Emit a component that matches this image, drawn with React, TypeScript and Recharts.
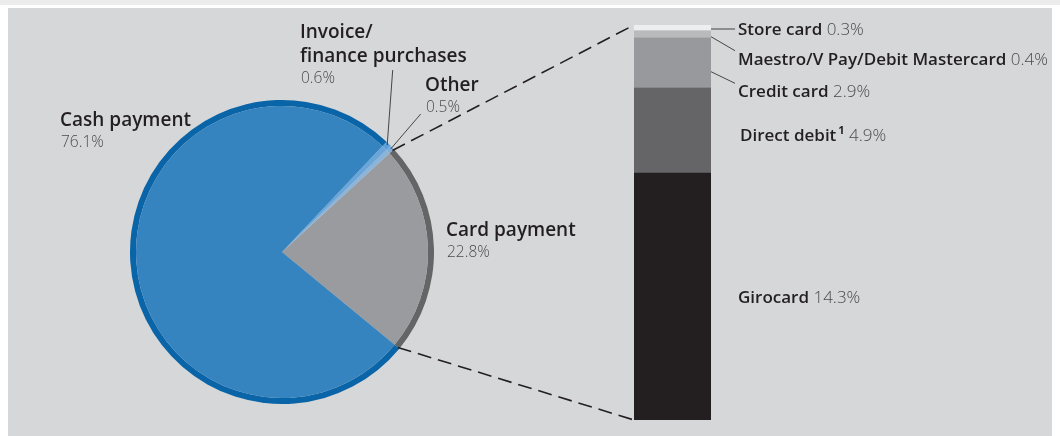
import React from "react";
import { PieChart, Pie, Cell, BarChart, Bar, XAxis, YAxis } from "recharts";

// payment shares (% of turnover)
const paymentMethods = ["Card payment", "Other", "Invoice/finance purchases", "Cash payment"];
const paymentShares = [22.8, 0.5, 0.6, 76.1];
const paymentFill = ["#9a9b9e", "#8cb4d8", "#6ba6da", "#3583bf"];
const paymentRing = ["#646567", "#7eaed8", "#5d9fd8", "#0a64a8"];

// breakdown of card payments
const cardTypes = ["Girocard", "Direct debit", "Credit card", "Maestro/V Pay/Debit Mastercard", "Store card"];
const cardShares = [14.3, 4.9, 2.9, 0.4, 0.3];
const cardColors = ["#231f20", "#656567", "#98999c", "#b9babc", "#eeeeee"];

const W = 1052;
const H = 428;
const CX = 274;
const CY = 244;
const R = 152;
const RING = 6;
const START = -39.5;

const BAR_X = 626;
const BAR_Y = 17;
const BAR_W = 77;
const BAR_H = 395;

const FONT = "'Open Sans', 'Noto Sans', sans-serif";
const INK = "#231f20";
const PCT = "#4a4b4d";

const pieData = paymentMethods.map((name, i) => ({ name, value: paymentShares[i] }));
const barRow: Record<string, number | string> = { name: "Card payment" };
cardTypes.forEach((t, i) => (barRow[t] = cardShares[i]));
const cardTotal = cardShares.reduce((a, b) => a + b, 0);

const polar = (deg: number, r: number) => {
    const a = (deg * Math.PI) / 180;
    return [CX + r * Math.cos(a), CY - r * Math.sin(a)];
};

// slice start/end angles from the shares
const angles: number[] = [];
{
    let a = START;
    paymentShares.forEach((v) => {
        angles.push(a);
        a += (v / 100) * 360;
    });
    angles.push(a);
}
const mid = (i: number) => (angles[i] + angles[i + 1]) / 2;

const Label = ({ x, y, lines, pct }: any) => (
    <g fontFamily={FONT}>
        {lines.map((l: string, i: number) => (
            <text key={i} x={x} y={y + i * 24} fontSize={19} fill={INK} fontWeight={600}>
                {l}
            </text>
        ))}
        <text x={x + 1} y={y + (lines.length - 1) * 24 + 21} fontSize={15.5} fill={PCT} fontWeight={300}>
            {pct}
        </text>
    </g>
);

const BarLabel = ({ x, y, name, pct, sup }: any) => (
    <text x={x} y={y} fontFamily={FONT} fontSize={17}>
        <tspan fill={INK} fontWeight={600}>{name}</tspan>
        {sup && (
            <tspan fill={INK} fontWeight={700} fontSize={11} dx={2} dy={-7}>
                {sup}
            </tspan>
        )}
        <tspan fill={PCT} fontWeight={300} dy={sup ? 7 : 0}>
            {" " + pct}
        </tspan>
    </text>
);

export default function App() {
    const cardStart = polar(angles[0], R - 2);
    const cardEnd = polar(angles[1], R - 2);
    const otherPt = polar(mid(1), R - 2);
    const invoicePt = polar(mid(2), R - 2);
    const fmt = (v: number) => `${v.toFixed(1)}%`;

    return (
        <div style={{ position: "relative", width: W, height: H, background: "#d6d7d8" }}>
            <div style={{ position: "fixed", left: 0, top: 0, width: "100%", height: 5, background: "#ececec" }} />
            <div style={{ position: "absolute", left: 0, top: 0 }}>
                <PieChart width={W} height={H} margin={{ top: 0, right: 0, bottom: 0, left: 0 }}>
                    <Pie
                        data={pieData}
                        dataKey="value"
                        cx={CX}
                        cy={CY}
                        innerRadius={R - RING}
                        outerRadius={R}
                        startAngle={START}
                        endAngle={START + 360}
                        stroke="none"
                        isAnimationActive={false}
                    >
                        {pieData.map((d, i) => (
                            <Cell key={d.name} fill={paymentRing[i]} />
                        ))}
                    </Pie>
                    <Pie
                        data={pieData}
                        dataKey="value"
                        cx={CX}
                        cy={CY}
                        innerRadius={0}
                        outerRadius={R - RING}
                        startAngle={START}
                        endAngle={START + 360}
                        stroke="none"
                        isAnimationActive={false}
                    >
                        {pieData.map((d, i) => (
                            <Cell key={d.name} fill={paymentFill[i]} />
                        ))}
                    </Pie>
                </PieChart>
            </div>
            <div style={{ position: "absolute", left: BAR_X, top: BAR_Y }}>
                <BarChart
                    width={BAR_W}
                    height={BAR_H}
                    data={[barRow]}
                    margin={{ top: 0, right: 0, bottom: 0, left: 0 }}
                    barCategoryGap={0}
                >
                    <XAxis dataKey="name" hide />
                    <YAxis hide domain={[0, cardTotal]} />
                    {cardTypes.map((t, i) => (
                        <Bar key={t} dataKey={t} stackId="card" fill={cardColors[i]} isAnimationActive={false} />
                    ))}
                </BarChart>
            </div>
            <svg width={W} height={H} style={{ position: "absolute", left: 0, top: 0, pointerEvents: "none" }}>
                {/* connectors from card slice to bar */}
                <line x1={cardEnd[0]} y1={cardEnd[1]} x2={BAR_X} y2={BAR_Y} stroke={INK} strokeWidth={1.6} strokeDasharray="14 7" />
                <line x1={cardStart[0]} y1={cardStart[1]} x2={BAR_X} y2={BAR_Y + BAR_H} stroke={INK} strokeWidth={1.6} strokeDasharray="14 7" />

                {/* pie leaders */}
                <line x1={384.7} y1={62} x2={invoicePt[0]} y2={invoicePt[1]} stroke={INK} strokeWidth={0.8} />
                <line x1={412.7} y1={106} x2={otherPt[0]} y2={otherPt[1]} stroke={INK} strokeWidth={0.8} />

                <Label x={52} y={118} lines={[paymentMethods[3]]} pct={fmt(paymentShares[3])} />
                <Label x={292} y={30} lines={["Invoice/", "finance purchases"]} pct={fmt(paymentShares[2])} />
                <Label x={417} y={83} lines={[paymentMethods[1]]} pct={fmt(paymentShares[1])} />
                <Label x={438} y={228} lines={[paymentMethods[0]]} pct={fmt(paymentShares[0])} />

                {/* bar leaders */}
                <line x1={BAR_X + BAR_W} y1={21} x2={727} y2={21} stroke={INK} strokeWidth={0.8} />
                <line x1={BAR_X + BAR_W} y1={28.7} x2={727} y2={42.7} stroke={INK} strokeWidth={0.8} />
                <line x1={BAR_X + BAR_W} y1={63.7} x2={727} y2={75.3} stroke={INK} strokeWidth={0.8} />

                <BarLabel x={730} y={27} name={cardTypes[4]} pct={fmt(cardShares[4])} />
                <BarLabel x={730} y={57} name={cardTypes[3]} pct={fmt(cardShares[3])} />
                <BarLabel x={730} y={89} name={cardTypes[2]} pct={fmt(cardShares[2])} />
                <BarLabel x={732} y={133} name={cardTypes[1]} sup="1" pct={fmt(cardShares[1])} />
                <BarLabel x={730} y={295} name={cardTypes[0]} pct={fmt(cardShares[0])} />
            </svg>
        </div>
    );
}
